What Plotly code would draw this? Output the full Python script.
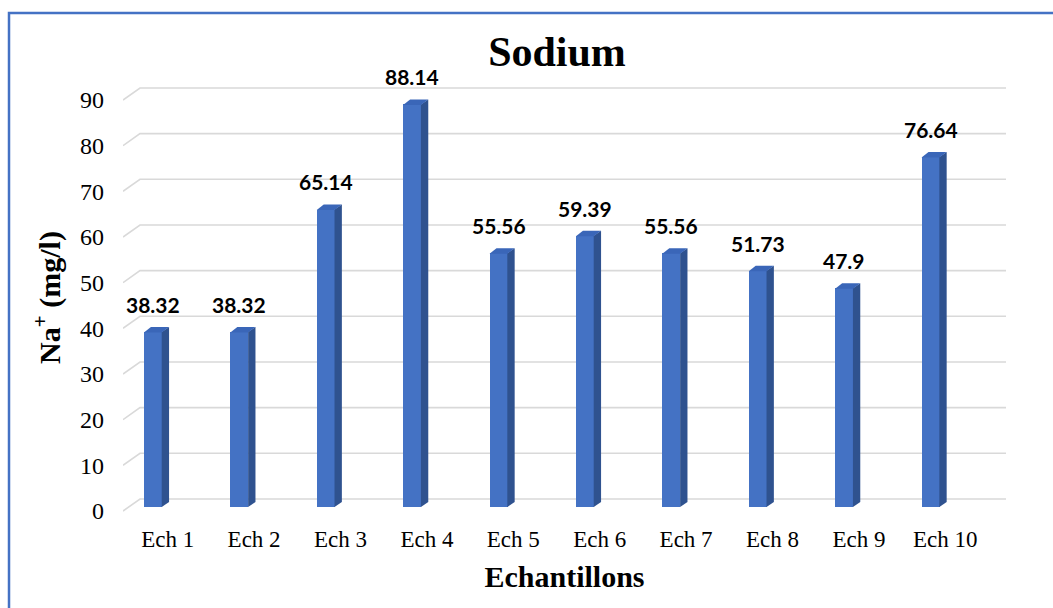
import plotly.graph_objects as go

# Sodium concentration per sample
categories = ["Ech 1", "Ech 2", "Ech 3", "Ech 4", "Ech 5",
              "Ech 6", "Ech 7", "Ech 8", "Ech 9", "Ech 10"]
sodium = [38.32, 38.32, 65.14, 88.14, 55.56, 59.39, 55.56, 51.73, 47.9, 76.64]
y_ticks = [0, 10, 20, 30, 40, 50, 60, 70, 80, 90]

# Pseudo-3D geometry (data units)
BAR_W = 0.21          # front face width
DEPTH_X = 0.081       # side-face horizontal depth
DEPTH_Y = 1.1         # side-face vertical rise
BASE = 0.88           # bar floor above the front axis line
WALL_Y = 2.63         # back-wall lift of the gridlines
WALL_X0 = -0.1505     # back-wall left edge
FRONT_X0 = -0.3472    # front-left corner
X_MAX = 9.8727
SEAM = 0.004          # small overlap so faces join without a gap

FRONT = "#4472C4"
SIDE = "#2F528F"
TOP = "#3A66B8"
GRID = "#D9D9D9"

fig = go.Figure()

# Back-wall gridlines with the oblique left returns (kept beneath the bars)
for v in y_ticks:
    fig.add_shape(type="path", xref="x", yref="y", layer="below",
                  path=f"M {FRONT_X0},{v} L {WALL_X0},{v + WALL_Y} L {X_MAX},{v + WALL_Y}",
                  line=dict(color=GRID, width=1.6))

xs = list(range(len(categories)))

# Front faces
fig.add_trace(go.Bar(
    x=xs, y=sodium, base=[BASE] * len(sodium), width=BAR_W,
    marker=dict(color=FRONT, line=dict(width=0)), showlegend=False))

# Side and top faces
for i, v in zip(xs, sodium):
    xl, xr = i - BAR_W / 2, i + BAR_W / 2
    b, t = BASE, BASE + v
    fig.add_trace(go.Scatter(
        x=[xr - SEAM, xr + DEPTH_X, xr + DEPTH_X, xr - SEAM, xr - SEAM],
        y=[b, b + DEPTH_Y, t + DEPTH_Y, t, b],
        mode="lines", fill="toself", fillcolor=SIDE,
        line=dict(width=0, color=SIDE), hoverinfo="skip", showlegend=False))
    fig.add_trace(go.Scatter(
        x=[xl, xl + DEPTH_X, xr + DEPTH_X, xr - SEAM, xl],
        y=[t - 0.1, t + DEPTH_Y, t + DEPTH_Y, t - 0.1, t - 0.1],
        mode="lines", fill="toself", fillcolor=TOP,
        line=dict(width=0, color=TOP), hoverinfo="skip", showlegend=False))
    fig.add_annotation(
        x=i, y=t + DEPTH_Y, text=f"<b>{v:g}</b>", showarrow=False,
        yanchor="bottom", yshift=8,
        font=dict(family="Lato", size=21, color="#000000"))

fig.update_layout(
    width=1053, height=608,
    margin=dict(l=123, r=47, t=80, b=93),
    paper_bgcolor="white", plot_bgcolor="white",
    title=dict(text="<b>Sodium</b>", x=0.4915, xref="paper", xanchor="center",
               y=0.915, yanchor="middle",
               font=dict(family="Liberation Serif", size=42, color="#000000")),
    xaxis=dict(
        range=[FRONT_X0, X_MAX], tickmode="array",
        tickvals=[i + 0.17 for i in xs], ticktext=categories,
        showgrid=False, zeroline=False, showline=False,
        ticks="", ticklabelstandoff=8,
        tickfont=dict(family="Liberation Serif", size=23, color="#000000"),
        title=dict(text="<b>Echantillons</b>", standoff=14,
                   font=dict(family="Liberation Serif", size=30, color="#000000"))),
    yaxis=dict(
        range=[-0.876, 94.38], tickmode="array", tickvals=y_ticks,
        showgrid=False, zeroline=False, showline=False,
        ticks="", ticklabelstandoff=18,
        tickfont=dict(family="Liberation Serif", size=24, color="#000000"),
        title=dict(text="<b>Na<sup>+</sup> (mg/l)</b>", standoff=10,
                   font=dict(family="Liberation Serif", size=30, color="#000000"))),
    bargap=0,
)

# Outer frame
fig.add_shape(type="rect", xref="paper", yref="paper",
              x0=-0.1291, y0=-0.6, x1=1.6, y1=1.154,
              line=dict(color=FRONT, width=2.5), fillcolor="rgba(0,0,0,0)",
              layer="above")

fig.write_html("out.html")
